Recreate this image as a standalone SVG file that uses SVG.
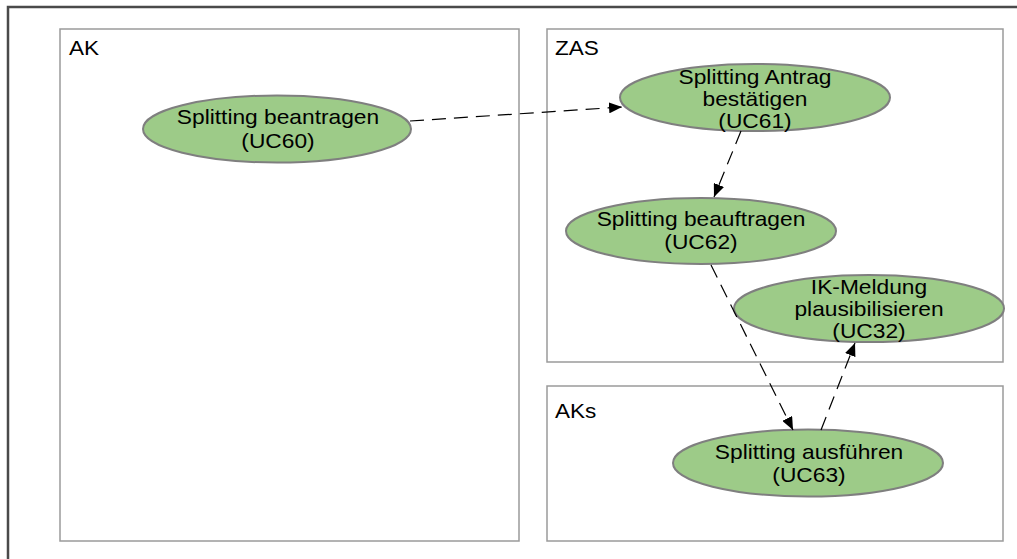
<svg xmlns="http://www.w3.org/2000/svg" width="1017" height="559" viewBox="0 0 1017 559">
<defs>
<marker id="arr" viewBox="0 0 13 11" refX="13" refY="5.5" markerWidth="13" markerHeight="11" markerUnits="userSpaceOnUse" orient="auto">
<path d="M0,0 L13,5.5 L0,11 Z" fill="#000"/>
</marker>
<style>
.frame{fill:none;stroke:#4a4a4a;stroke-width:2.5}
.box{fill:#fff;stroke:#9a9a9a;stroke-width:1.5}
.uc{fill:#9dcb88;stroke:#7f7f7f;stroke-width:2}
.t{font-family:"Liberation Sans",Arial,sans-serif;font-size:20.5px;fill:#000;text-anchor:middle}
.lbl{font-family:"Liberation Sans",Arial,sans-serif;font-size:20.5px;fill:#000}
.c{fill:none;stroke:#000;stroke-width:1.2;stroke-dasharray:14 8}
</style>
</defs>
<rect width="1017" height="559" fill="#fff"/>
<path class="frame" d="M8,559 L8,7 L1017,7"/>
<g id="AK"><rect class="box" x="60" y="29" width="459" height="512"/><text class="lbl" x="0" y="0" transform="translate(69,55) scale(1.1,1)">AK</text></g>
<g id="ZAS"><rect class="box" x="547" y="29" width="456" height="333"/><text class="lbl" x="0" y="0" transform="translate(555,55) scale(1.1,1)">ZAS</text></g>
<g id="AKs"><rect class="box" x="547" y="386" width="456" height="155"/><text class="lbl" x="0" y="0" transform="translate(555,418) scale(1.1,1)">AKs</text></g>
<g id="UC60"><ellipse class="uc" cx="277" cy="129" rx="134" ry="33.5"/>
<text class="t" transform="translate(278,124) scale(1.11,1)">Splitting beantragen</text>
<text class="t" transform="translate(278,148) scale(1.11,1)">(UC60)</text></g>
<g id="UC61"><ellipse class="uc" cx="755" cy="97.5" rx="135" ry="33.5"/>
<text class="t" transform="translate(755,84) scale(1.11,1)">Splitting Antrag</text>
<text class="t" transform="translate(755,106) scale(1.11,1)">bestätigen</text>
<text class="t" transform="translate(755,128) scale(1.11,1)">(UC61)</text></g>
<g id="UC62"><ellipse class="uc" cx="701" cy="231" rx="135" ry="33"/>
<text class="t" transform="translate(701,226) scale(1.11,1)">Splitting beauftragen</text>
<text class="t" transform="translate(701,249) scale(1.11,1)">(UC62)</text></g>
<g id="UC32"><ellipse class="uc" cx="869" cy="308.5" rx="135" ry="33.5"/>
<text class="t" transform="translate(869,294) scale(1.11,1)">IK-Meldung</text>
<text class="t" transform="translate(869,316) scale(1.11,1)">plausibilisieren</text>
<text class="t" transform="translate(869,338) scale(1.11,1)">(UC32)</text></g>
<g id="UC63"><ellipse class="uc" cx="808" cy="463" rx="135" ry="33.5"/>
<text class="t" transform="translate(809,459) scale(1.11,1)">Splitting ausführen</text>
<text class="t" transform="translate(809,482) scale(1.11,1)">(UC63)</text></g>
<g id="connectors">
<line class="c" x1="410" y1="121" x2="622" y2="107" marker-end="url(#arr)"/>
<line class="c" x1="741" y1="131" x2="714" y2="197" marker-end="url(#arr)"/>
<line class="c" x1="711" y1="265" x2="793" y2="430" marker-end="url(#arr)"/>
<line class="c" x1="821" y1="430" x2="855" y2="343" marker-end="url(#arr)"/>
</g>
</svg>
